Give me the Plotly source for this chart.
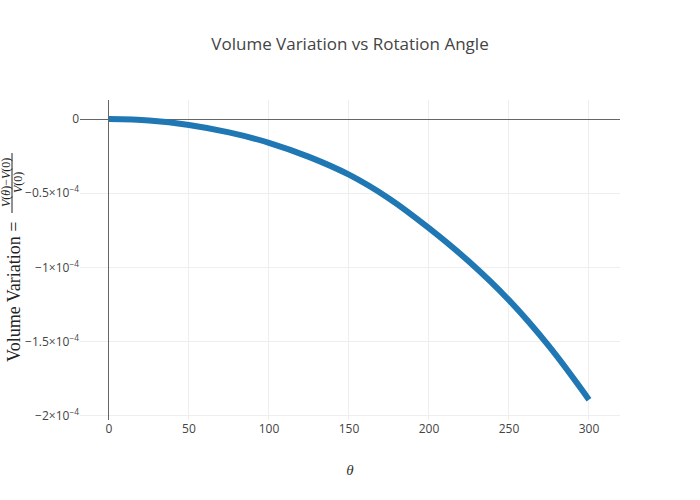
import plotly.graph_objects as go

theta = [0, 25, 50, 75, 100, 125, 150, 175, 200, 225, 250, 275, 300]
volume_variation = [0.0, -0.01e-4, -0.04e-4, -0.09e-4, -0.16e-4, -0.255e-4, -0.375e-4,
                    -0.535e-4, -0.735e-4, -0.96e-4, -1.22e-4, -1.53e-4, -1.89e-4]

title_text = "Volume Variation vs Rotation Angle"
ylabel_main = "Volume Variation ="
ylabel_num = "<i>V</i>(<i>θ</i>)−<i>V</i>(0)"
ylabel_den = "<i>V</i>(0)"
xlabel = "<i>θ</i>"

fig = go.Figure()
fig.add_trace(go.Scatter(x=theta, y=volume_variation, mode="lines",
                         line=dict(color="#1f77b4", width=6, shape="spline")))

serif = "Liberation Serif"
fig.update_layout(
    template="none",
    width=700, height=500,
    margin=dict(l=80, r=80, t=100, b=80),
    title=dict(text=title_text, x=0.5, font=dict(family="Open Sans", size=17, color="#444")),
    font=dict(family="Open Sans", size=12, color="#444"),
    showlegend=False,
    plot_bgcolor="white", paper_bgcolor="white",
    xaxis=dict(range=[-18.1, 319.4], dtick=50, tick0=0, gridcolor="#eee", zeroline=True,
               zerolinecolor="#666", zerolinewidth=1, showline=False, ticks="",
               title=dict(text=xlabel, font=dict(family=serif, size=15, color="#333"))),
    yaxis=dict(range=[-2.027e-4, 0.128e-4], dtick=0.5e-4, tick0=0, exponentformat="power",
               gridcolor="#eee", zeroline=True, zerolinecolor="#666", zerolinewidth=1,
               showline=False, ticks=""),
)

fig.add_annotation(text=ylabel_main, textangle=-90, xref="paper", yref="paper",
                   x=(14 - 80) / 540, y=(420 - 292) / 320, xanchor="center", yanchor="middle",
                   showarrow=False, font=dict(family=serif, size=18, color="#222"))
fig.add_annotation(text=ylabel_num, textangle=-90, xref="paper", yref="paper",
                   x=(6 - 80) / 540, y=(420 - 183) / 320, xanchor="center", yanchor="middle",
                   showarrow=False, font=dict(family=serif, size=12, color="#222"))
fig.add_annotation(text=ylabel_den, textangle=-90, xref="paper", yref="paper",
                   x=(18 - 80) / 540, y=(420 - 183) / 320, xanchor="center", yanchor="middle",
                   showarrow=False, font=dict(family=serif, size=12, color="#222"))
fig.add_shape(type="line", xref="paper", yref="paper",
              x0=(12 - 80) / 540, x1=(12 - 80) / 540,
              y0=(420 - 213) / 320, y1=(420 - 153) / 320,
              line=dict(color="#222", width=1))

fig.write_html("out.html")
